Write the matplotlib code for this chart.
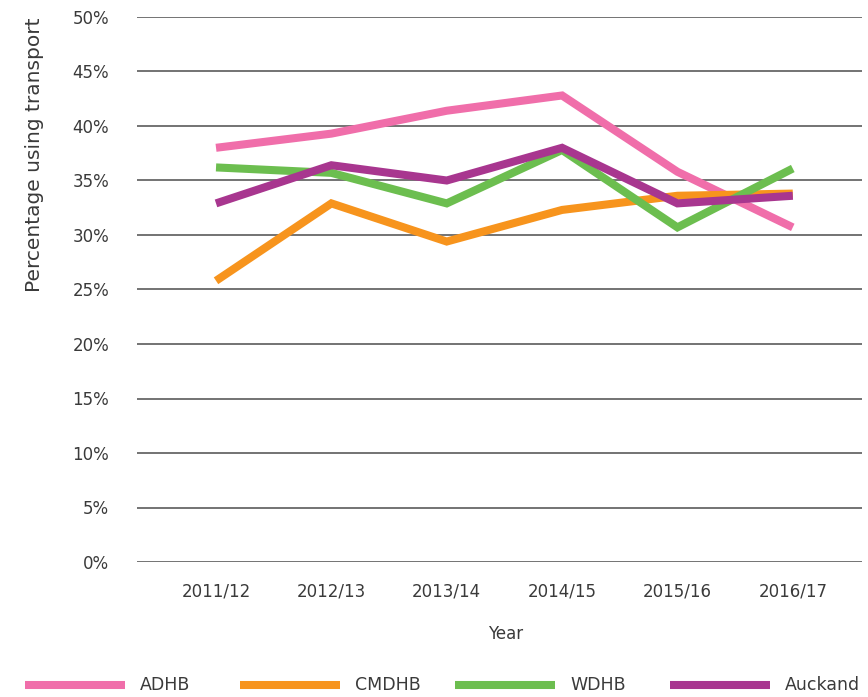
import matplotlib
matplotlib.use("Agg")
import matplotlib.pyplot as plt
from matplotlib.lines import Line2D

years = ["2011/12", "2012/13", "2013/14", "2014/15", "2015/16", "2016/17"]
series_names = ["ADHB", "CMDHB", "WDHB", "Auckand"]
adhb = [38.0, 39.3, 41.4, 42.8, 35.8, 30.7]
cmdhb = [25.8, 32.9, 29.4, 32.3, 33.6, 33.8]
wdhb = [36.2, 35.7, 32.9, 37.8, 30.7, 36.1]
auckland = [32.9, 36.4, 35.0, 38.0, 32.9, 33.6]
colors = ["#F06EAA", "#F7941D", "#6CBE4F", "#A8368F"]
y_ticks = [0, 5, 10, 15, 20, 25, 30, 35, 40, 45, 50]

plt.rcParams["font.family"] = ["DejaVu Sans"]
text_color = "#3a3a3a"

fig = plt.figure(figsize=(8.68, 6.97), dpi=100)
ax = fig.add_axes([137 / 868, 1 - 562 / 697, (862 - 137) / 868, (562 - 17) / 697])

xs = list(range(len(years)))
for vals, color in zip([adhb, cmdhb, wdhb, auckland], colors):
    ax.plot(xs, vals, color=color, lw=5.8, solid_capstyle="butt", solid_joinstyle="miter", zorder=3)

ax.set_ylim(0, 50)
ax.set_xlim(-0.685, 5.6)
ax.set_yticks(y_ticks)
ax.set_yticklabels([f"{v}%" for v in y_ticks])
ax.set_xticks(xs)
ax.set_xticklabels(years)
ax.yaxis.grid(True, color="#4d4d4d", lw=1.1)
ax.set_axisbelow(True)
for s in ax.spines.values():
    s.set_visible(False)
ax.tick_params(axis="both", length=0, labelsize=12, colors=text_color)
ax.tick_params(axis="y", pad=20)
ax.tick_params(axis="x", pad=15)

fig.text(35 / 868, 1 - 155 / 697, "Percentage using transport", rotation=90,
         ha="center", va="center", fontsize=14.5, color=text_color)
fig.text(506 / 868, 1 - 634 / 697, "Year", ha="center", va="center",
         fontsize=12, color=text_color)

# legend row along the bottom edge
for i, (name, color) in enumerate(zip(series_names, colors)):
    x0 = 25 + 215 * i
    fig.add_artist(Line2D([x0 / 868, (x0 + 100) / 868], [1 - 685 / 697] * 2,
                          color=color, lw=5.8, solid_capstyle="butt"))
    fig.text((x0 + 115) / 868, 1 - 685 / 697, name, ha="left", va="center",
             fontsize=12.5, color=text_color)

fig.savefig("out.png", dpi=100)
